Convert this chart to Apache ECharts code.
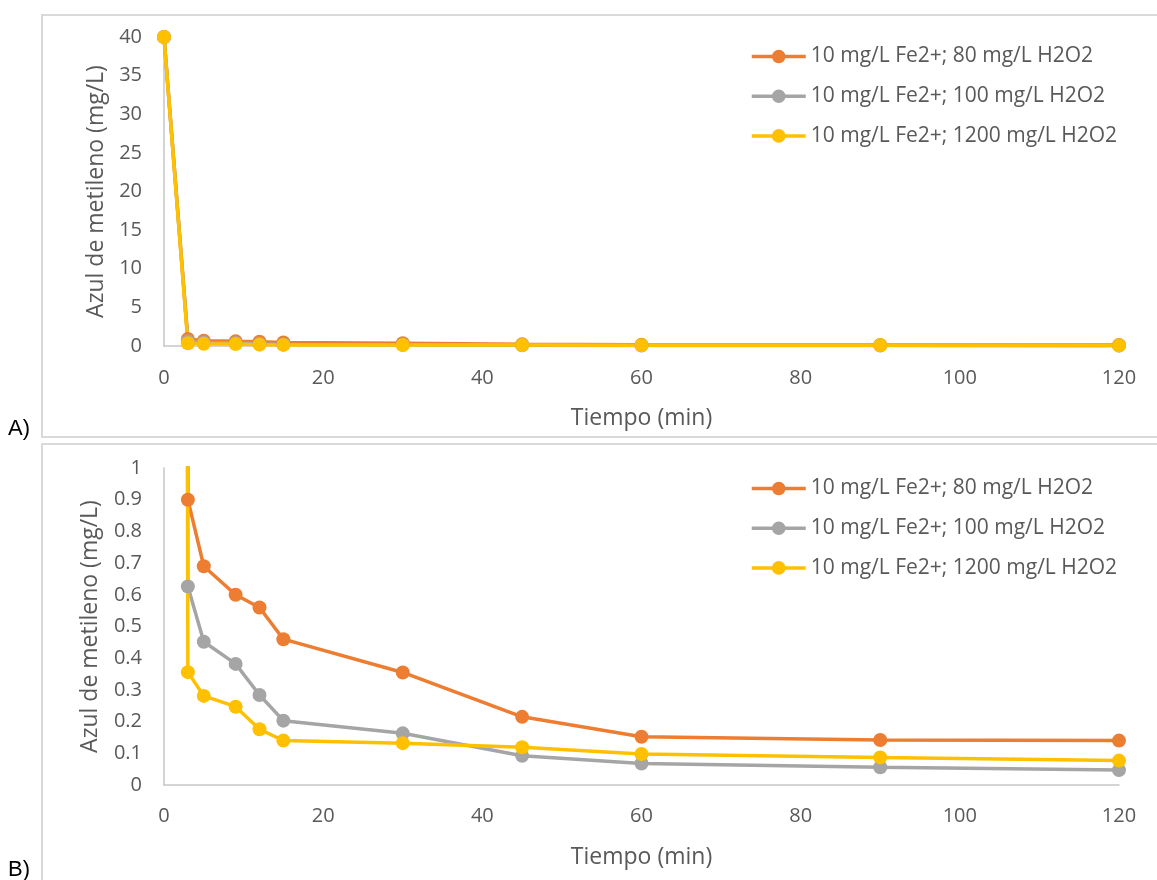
<!DOCTYPE html>
<html lang="es" style="height: 100%">
<head>
    <meta charset="utf-8">
</head>
<body style="height: 100%; margin: 0; background: #fff">
    <div id="container" style="width: 1157px; height: 880px"></div>

    <script src="https://cdn.jsdelivr.net/npm/echarts@6/dist/echarts.min.js"></script>
    <script type="text/javascript">

        // datos
        const tiempo = [0, 3, 5, 9, 12, 15, 30, 45, 60, 90, 120];
        const nombres = [
            "10 mg/L Fe2+; 80 mg/L H2O2",
            "10 mg/L Fe2+; 100 mg/L H2O2",
            "10 mg/L Fe2+; 1200 mg/L H2O2"
        ];
        const fe80 = [40, 0.90, 0.69, 0.60, 0.56, 0.46, 0.355, 0.215, 0.152, 0.142, 0.14];
        const fe100 = [40, 0.626, 0.452, 0.382, 0.284, 0.203, 0.163, 0.092, 0.068, 0.056, 0.047];
        const fe1200 = [40, 0.356, 0.281, 0.247, 0.176, 0.14, 0.132, 0.119, 0.098, 0.087, 0.077];
        const colores = ["#ED7D31", "#A5A5A5", "#FFC000"];

        const fuente = "'Open Sans', sans-serif";
        const gris = "#595959";

        let dom = document.getElementById('container');
        let myChart = echarts.init(dom, null, { renderer: 'canvas' });

        const pares = (valores) => tiempo.map((t, i) => [t, valores[i]]);
        const todos = [fe80, fe100, fe1200];

        let series = [];
        [0, 1].forEach(g => {
            todos.forEach((vals, i) => {
                series.push({
                    name: nombres[i],
                    type: 'line',
                    xAxisIndex: g,
                    yAxisIndex: g,
                    data: pares(vals),
                    symbol: 'circle',
                    symbolSize: 14,
                    showAllSymbol: true,
                    clip: true,
                    color: colores[i],
                    lineStyle: { width: 3.5, color: colores[i] },
                    itemStyle: { color: colores[i] },
                    emphasis: { disabled: true },
                    animation: false
                });
            });
        });

        const ejeX = (g, gap, margin) => ({
            type: 'value',
            gridIndex: g,
            min: 0, max: 120, interval: 20,
            name: 'Tiempo (min)',
            nameLocation: 'middle',
            nameGap: gap,
            nameTextStyle: { fontFamily: fuente, fontSize: 23, color: gris },
            axisLine: { show: true, lineStyle: { color: '#c6c6c6', width: 1.5 } },
            axisTick: { show: false },
            splitLine: { show: false },
            axisLabel: { margin: margin, fontFamily: fuente, fontSize: 20, color: gris }
        });

        const ejeY = (g, max, interval, gap) => ({
            type: 'value',
            gridIndex: g,
            min: 0, max: max, interval: interval,
            name: 'Azul de metileno (mg/L)',
            nameLocation: 'middle',
            nameGap: gap,
            nameTextStyle: { fontFamily: fuente, fontSize: 23, color: gris },
            axisLine: { show: true, lineStyle: { color: '#c6c6c6', width: 1.5 } },
            axisTick: { show: false },
            splitLine: { show: false },
            axisLabel: { margin: 22, fontFamily: fuente, fontSize: 20, color: gris }
        });

        const leyenda = (top, idx) => ({
            orient: 'vertical',
            left: 750,
            top: top,
            padding: 0,
            itemWidth: 54,
            itemHeight: 17,
            itemGap: 18.7,
            seriesIndex: idx,
            data: nombres,
            selectedMode: false,
            lineStyle: { width: 3.5 },
            textStyle: { fontFamily: fuente, fontSize: 21, color: gris, lineHeight: 21 }
        });

        let option = {
            backgroundColor: '#fff',
            animation: false,
            grid: [
                { left: 164, right: 38, top: 37, height: 309 },
                { left: 164, right: 38, top: 468, height: 317 }
            ],
            xAxis: [ejeX(0, 61, 22), ejeX(1, 61, 21)],
            yAxis: [ejeY(0, 40, 5, 55), ejeY(1, 1, 0.1, 62)],
            legend: [leyenda(46, [0, 1, 2]), leyenda(478, [3, 4, 5])],
            graphic: [
                { type: 'rect', shape: { x: 42, y: 15, width: 1130, height: 422 },
                  style: { fill: 'none', stroke: '#d9d9d9', lineWidth: 2 }, silent: true },
                { type: 'rect', shape: { x: 42, y: 444, width: 1130, height: 450 },
                  style: { fill: 'none', stroke: '#d9d9d9', lineWidth: 2 }, silent: true },
                { type: 'text', left: 8, top: 418,
                  style: { text: 'A)', font: "22px 'Liberation Sans', Arial", fill: '#000' } },
                { type: 'text', left: 8, top: 859,
                  style: { text: 'B)', font: "22px 'Liberation Sans', Arial", fill: '#000' } }
            ],
            series: series
        };

        myChart.setOption(option);
    </script>
</body>
</html>
